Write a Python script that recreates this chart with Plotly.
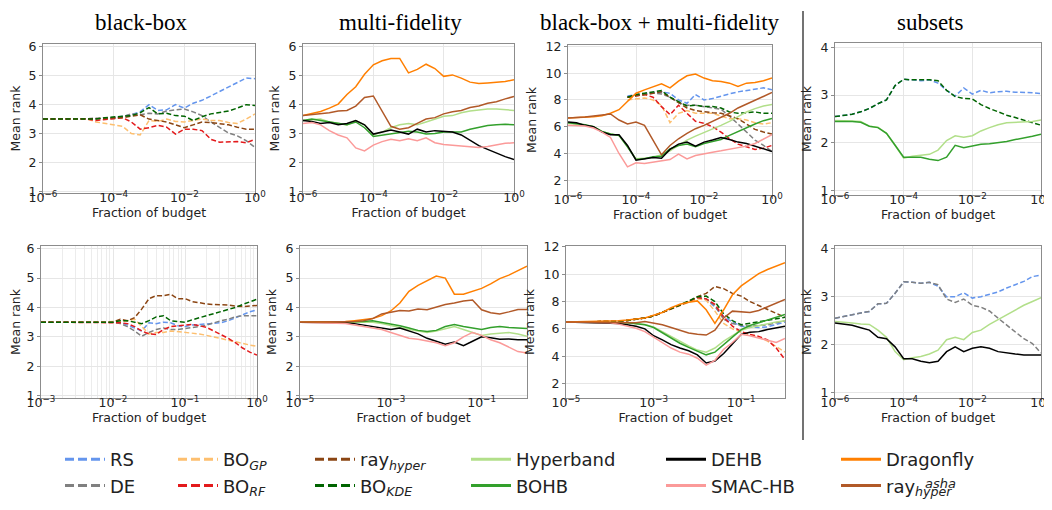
import plotly.graph_objects as go

N = None

# ---------------- data (x given as log10 of the budget fraction) ----------------
X_R1 = [-6, -5.75, -5.5, -5.25, -5, -4.75, -4.5, -4.25, -4, -3.75, -3.5, -3.25, -3,
        -2.75, -2.5, -2.25, -2, -1.75, -1.5, -1.25, -1, -0.75, -0.5, -0.25, 0]
X_P5 = [-3, -2.0, -1.9, -1.8, -1.7, -1.6, -1.5, -1.4, -1.3, -1.2, -1.1, -1.0, -0.9,
        -0.8, -0.7, -0.6, -0.5, -0.4, -0.3, -0.2, -0.1, 0]
X_R2 = [-5, -4.0, -3.8, -3.6, -3.4, -3.2, -3.0, -2.8, -2.6, -2.4, -2.2, -2.0, -1.8,
        -1.6, -1.4, -1.2, -1.0, -0.8, -0.6, -0.4, -0.2, 0]

# panel 1: black-box (row 1)
P1_RS = [3.5, 3.5, 3.5, 3.5, 3.5, 3.5, 3.5, 3.52, 3.55, 3.6, 3.65, 3.75, 4.0, 3.8, 3.82, 4.0, 3.88, 4.05, 4.15, 4.3, 4.45, 4.6, 4.75, 4.92, 4.9]
P1_DE = [3.5, 3.5, 3.5, 3.5, 3.5, 3.5, 3.5, 3.5, 3.52, 3.58, 3.68, 3.65, 3.7, 3.68, 3.78, 3.82, 3.85, 3.75, 3.62, 3.4, 3.2, 3.02, 2.92, 2.75, 2.52]
P1_GP = [3.5, 3.5, 3.5, 3.5, 3.5, 3.5, 3.4, 3.35, 3.3, 3.25, 3.0, 2.95, 3.45, 3.42, 3.5, 3.42, 3.4, 3.45, 3.5, 3.45, 3.45, 3.38, 3.35, 3.5, 3.68]
P1_RF = [3.5, 3.5, 3.5, 3.5, 3.5, 3.5, 3.45, 3.48, 3.5, 3.55, 3.4, 3.15, 3.2, 3.28, 3.22, 2.98, 3.15, 3.15, 3.1, 2.8, 2.7, 2.72, 2.72, 2.68, 2.8]
P1_RH = [3.5, 3.5, 3.5, 3.5, 3.5, 3.5, 3.5, 3.52, 3.55, 3.55, 3.6, 3.65, 3.5, 3.45, 3.4, 3.3, 3.2, 3.3, 3.4, 3.38, 3.35, 3.3, 3.22, 3.15, 3.15]
P1_KDE = [3.5, 3.5, 3.5, 3.5, 3.5, 3.5, 3.5, 3.55, 3.58, 3.6, 3.62, 3.72, 3.9, 3.68, 3.7, 3.62, 3.6, 3.45, 3.58, 3.68, 3.72, 3.78, 3.88, 4.0, 3.97]

# panel 2: multi-fidelity (row 1)
P2_HB = [3.45, 3.48, 3.5, 3.4, 3.35, 3.3, 3.45, 3.3, 2.95, 3.05, 3.2, 3.3, 3.35, 3.3, 3.4, 3.5, 3.6, 3.62, 3.72, 3.78, 3.82, 3.85, 3.85, 3.82, 3.8]
P2_BOHB = [3.45, 3.5, 3.45, 3.4, 3.35, 3.3, 3.4, 3.2, 2.9, 2.95, 3.0, 3.05, 3.08, 3.05, 2.98, 3.0, 3.05, 3.05, 3.05, 3.15, 3.22, 3.28, 3.3, 3.32, 3.3]
P2_DEHB = [3.45, 3.42, 3.35, 3.38, 3.3, 3.35, 3.45, 3.3, 2.98, 3.05, 3.12, 3.05, 2.98, 3.15, 3.05, 3.1, 3.08, 3.05, 2.95, 2.75, 2.58, 2.45, 2.32, 2.2, 2.1]
P2_SMAC = [3.35, 3.38, 3.3, 3.1, 2.95, 2.85, 2.5, 2.4, 2.6, 2.72, 2.8, 2.75, 2.82, 2.75, 2.85, 2.68, 2.62, 2.6, 2.58, 2.55, 2.52, 2.55, 2.6, 2.66, 2.68]
P2_DF = [3.62, 3.7, 3.76, 3.88, 4.02, 4.35, 4.62, 5.05, 5.38, 5.52, 5.6, 5.6, 5.1, 5.22, 5.4, 5.25, 4.98, 5.03, 4.92, 4.78, 4.73, 4.75, 4.77, 4.8, 4.86]
P2_ASHA = [3.62, 3.65, 3.7, 3.72, 3.78, 3.8, 3.95, 4.25, 4.3, 3.75, 3.25, 3.15, 3.2, 3.35, 3.5, 3.55, 3.68, 3.75, 3.8, 3.9, 3.95, 4.05, 4.1, 4.2, 4.28]

# panel 3: black-box + multi-fidelity (row 1)
P3_RS = [N, N, N, N, N, N, N, 8.3, 8.4, 8.5, 8.55, 8.6, 8.5, 8.0, 7.75, 8.4, 8.0, 8.1, 8.3, 8.45, 8.6, 8.7, 8.8, 8.9, 8.75]
P3_DE = [N, N, N, N, N, N, N, 8.2, 8.35, 8.4, 8.5, 8.45, 8.2, 7.8, 7.6, 7.6, 7.5, 7.45, 7.3, 6.8, 6.2, 5.6, 5.0, 4.6, 4.15]
P3_GP = [N, N, N, N, N, N, N, 8.0, 8.1, 8.15, 8.0, 7.6, 6.3, 7.0, 7.2, 7.0, 7.0, 7.0, 6.8, 6.6, 6.6, 6.5, 6.3, 6.2, 6.3]
P3_RF = [N, N, N, N, N, N, N, 8.2, 8.3, 8.4, 8.2, 7.5, 6.9, 7.6, 7.0, 6.4, 6.25, 6.0, 5.6, 5.1, 4.7, 4.5, 4.3, 4.4, 4.6]
P3_RH = [N, N, N, N, N, N, N, 8.2, 8.3, 8.4, 8.5, 8.6, 8.2, 7.8, 7.4, 7.2, 7.1, 7.05, 7.0, 6.8, 6.6, 6.2, 5.8, 5.6, 5.45]
P3_KDE = [N, N, N, N, N, N, N, 8.2, 8.4, 8.5, 8.6, 8.7, 8.2, 7.9, 7.55, 7.6, 7.5, 7.5, 7.4, 7.1, 7.0, 7.05, 7.1, 7.0, 7.0]
P3_HB = [6.25, 6.2, 6.1, 6.0, 5.65, 5.45, 5.35, 4.5, 3.6, 3.65, 3.7, 3.9, 4.2, 4.6, 5.0, 5.3, 5.55, 5.85, 6.1, 6.4, 6.75, 7.1, 7.35, 7.55, 7.65]
P3_BOHB = [6.3, 6.25, 6.15, 6.0, 5.65, 5.45, 5.35, 4.5, 3.55, 3.6, 3.75, 3.8, 4.35, 4.6, 4.7, 4.5, 4.75, 4.9, 5.05, 5.35, 5.65, 5.95, 6.2, 6.45, 6.62]
P3_DEHB = [6.35, 6.3, 6.1, 6.0, 5.6, 5.4, 5.4, 4.6, 3.5, 3.6, 3.7, 3.65, 4.3, 4.7, 4.85, 4.55, 4.85, 5.0, 5.2, 5.05, 4.85, 4.75, 4.55, 4.35, 4.15]
P3_SMAC = [6.1, 6.1, 6.05, 5.9, 5.6, 5.2, 4.0, 3.0, 3.3, 3.25, 3.35, 3.45, 3.55, 3.95, 3.6, 3.85, 4.0, 4.1, 4.2, 4.3, 4.4, 4.55, 4.75, 5.05, 5.4]
P3_DF = [6.65, 6.68, 6.7, 6.75, 6.82, 7.0, 7.27, 7.9, 8.5, 8.75, 9.0, 9.2, 8.9, 9.4, 9.8, 9.93, 9.63, 9.43, 9.38, 9.25, 9.0, 9.25, 9.3, 9.43, 9.63]
P3_ASHA = [6.65, 6.68, 6.72, 6.8, 6.9, 6.95, 6.5, 6.2, 6.35, 6.1, 5.0, 3.9, 4.6, 5.1, 5.5, 5.85, 6.1, 6.4, 6.7, 7.0, 7.4, 7.7, 8.0, 8.25, 8.55]

# panel 4: subsets (row 1)
P4_RS = [2.55, 2.57, 2.6, 2.65, 2.72, 2.82, 2.9, 3.2, 3.33, 3.32, 3.3, 3.32, 3.25, 3.1, 2.98, 3.15, 3.02, 3.1, 3.05, 3.07, 3.08, 3.06, 3.06, 3.05, 3.03]
P4_KDE = [2.55, 2.57, 2.6, 2.65, 2.72, 2.82, 2.9, 3.2, 3.33, 3.32, 3.32, 3.32, 3.3, 3.1, 2.97, 2.93, 2.92, 2.8, 2.72, 2.65, 2.58, 2.53, 2.48, 2.42, 2.37]
P4_HB = [2.47, 2.47, 2.46, 2.45, 2.35, 2.33, 2.2, 1.95, 1.68, 1.72, 1.74, 1.76, 1.85, 2.05, 2.15, 2.12, 2.15, 2.25, 2.32, 2.38, 2.42, 2.43, 2.45, 2.45, 2.48]
P4_BOHB = [2.45, 2.45, 2.45, 2.43, 2.35, 2.32, 2.2, 1.95, 1.7, 1.7, 1.7, 1.66, 1.63, 1.7, 1.95, 1.9, 1.93, 1.97, 1.98, 2.0, 2.03, 2.07, 2.1, 2.14, 2.18]

# panel 5: black-box (row 2)
P5_RS = [3.5, 3.5, 3.5, 3.4, 3.3, 3.2, 3.48, 3.45, 3.5, 3.48, 3.38, 3.35, 3.4, 3.42, 3.42, 3.45, 3.48, 3.55, 3.65, 3.75, 3.85, 3.92]
P5_DE = [3.5, 3.5, 3.45, 3.35, 3.2, 3.02, 3.15, 3.25, 3.3, 3.25, 3.25, 3.28, 3.3, 3.35, 3.4, 3.48, 3.55, 3.6, 3.68, 3.72, 3.73, 3.72]
P5_GP = [3.5, 3.5, 3.52, 3.55, 3.6, 3.35, 3.1, 3.15, 3.15, 3.2, 3.18, 3.15, 3.12, 3.1, 3.05, 3.0, 2.95, 2.9, 2.85, 2.78, 2.72, 2.68]
P5_RF = [3.5, 3.5, 3.48, 3.45, 3.35, 3.2, 3.1, 3.08, 3.25, 3.35, 3.38, 3.4, 3.42, 3.38, 3.32, 3.2, 3.08, 2.95, 2.8, 2.62, 2.48, 2.38]
P5_RH = [3.5, 3.5, 3.6, 3.55, 3.65, 3.95, 4.3, 4.4, 4.4, 4.45, 4.3, 4.3, 4.2, 4.15, 4.12, 4.1, 4.1, 4.08, 4.05, 4.03, 4.05, 4.07]
P5_KDE = [3.5, 3.5, 3.55, 3.55, 3.5, 3.45, 3.55, 3.68, 3.72, 3.55, 3.52, 3.5, 3.58, 3.65, 3.72, 3.8, 3.85, 3.92, 4.0, 4.1, 4.18, 4.28]

# panel 6: multi-fidelity (row 2)
P6_HB = [3.5, 3.5, 3.5, 3.5, 3.5, 3.45, 3.38, 3.3, 3.25, 3.2, 3.15, 3.2, 3.28, 3.35, 3.25, 3.15, 3.05, 3.1, 3.12, 3.15, 3.1, 3.02]
P6_BOHB = [3.5, 3.5, 3.5, 3.52, 3.55, 3.5, 3.45, 3.38, 3.3, 3.22, 3.18, 3.22, 3.35, 3.42, 3.35, 3.3, 3.25, 3.32, 3.35, 3.32, 3.3, 3.28]
P6_DEHB = [3.5, 3.48, 3.45, 3.4, 3.35, 3.3, 3.25, 3.3, 3.2, 3.1, 2.95, 2.85, 2.75, 2.82, 2.7, 2.85, 3.0, 2.97, 2.92, 2.93, 2.9, 2.9]
P6_SMAC = [3.5, 3.45, 3.4, 3.35, 3.3, 3.25, 3.15, 3.05, 2.95, 2.92, 2.85, 2.8, 2.7, 2.8, 3.0, 3.15, 3.05, 2.9, 2.8, 2.65, 2.5, 2.45]
P6_DF = [3.5, 3.52, 3.55, 3.58, 3.62, 3.72, 3.88, 4.15, 4.55, 4.75, 4.9, 5.07, 5.0, 4.45, 4.45, 4.55, 4.65, 4.8, 4.98, 5.1, 5.25, 5.4]
P6_ASHA = [3.5, 3.52, 3.52, 3.55, 3.62, 3.78, 3.85, 3.9, 3.88, 3.95, 3.92, 4.0, 4.1, 4.15, 4.22, 4.25, 3.92, 3.82, 3.78, 3.85, 3.93, 3.93]

# panel 7: black-box + multi-fidelity (row 2)
P7_RS = [6.5, 6.5, 6.55, 6.62, 6.7, 6.8, 6.95, 7.2, 7.5, 7.75, 8.0, 8.25, 8.2, 7.6, 6.9, 6.5, 6.2, 6.15, 6.1, 6.15, 6.3, 6.5]
P7_DE = [6.5, 6.5, 6.55, 6.62, 6.7, 6.8, 6.95, 7.2, 7.5, 7.75, 8.0, 8.3, 8.2, 7.7, 6.7, 6.4, 6.25, 6.2, 6.25, 6.3, 6.45, 6.6]
P7_GP = [6.5, 6.5, 6.55, 6.62, 6.7, 6.8, 6.95, 7.2, 7.5, 7.75, 7.95, 8.2, 8.1, 7.3, 6.4, 6.0, 5.75, 5.6, 5.4, 5.1, 4.7, 4.3]
P7_RF = [6.5, 6.5, 6.55, 6.62, 6.7, 6.8, 6.95, 7.2, 7.5, 7.75, 8.0, 8.3, 8.2, 7.8, 6.85, 6.2, 5.8, 5.6, 5.45, 5.2, 4.6, 3.75]
P7_RH = [6.5, 6.5, 6.55, 6.62, 6.7, 6.8, 6.95, 7.2, 7.5, 7.75, 8.0, 8.35, 8.6, 9.1, 8.95, 8.6, 8.4, 8.0, 7.7, 7.45, 7.1, 6.85]
P7_KDE = [6.5, 6.5, 6.55, 6.62, 6.7, 6.8, 6.95, 7.2, 7.5, 7.75, 8.05, 8.35, 8.4, 8.0, 7.1, 6.6, 6.3, 6.4, 6.5, 6.6, 6.75, 6.85]
P7_HB = [6.5, 6.5, 6.48, 6.45, 6.4, 6.32, 6.15, 5.8, 5.4, 5.05, 4.75, 4.45, 4.3, 4.6, 5.1, 5.5, 5.9, 6.1, 6.25, 6.4, 6.5, 6.6]
P7_BOHB = [6.5, 6.5, 6.48, 6.45, 6.38, 6.3, 6.1, 5.7, 5.3, 4.95, 4.65, 4.35, 4.1, 4.3, 4.85, 5.35, 5.95, 6.25, 6.45, 6.65, 6.85, 7.05]
P7_DEHB = [6.5, 6.45, 6.4, 6.3, 6.2, 6.0, 5.5, 5.2, 4.85, 4.6, 4.4, 4.1, 3.5, 3.65, 4.2, 4.9, 5.6, 5.75, 5.8, 5.95, 6.1, 6.2]
P7_SMAC = [6.5, 6.45, 6.35, 6.2, 6.05, 5.8, 5.4, 5.0, 4.6, 4.3, 4.15, 3.85, 3.35, 3.7, 4.5, 5.0, 5.6, 5.5, 5.35, 5.2, 5.0, 5.3]
P7_DF = [6.5, 6.55, 6.6, 6.65, 6.7, 6.8, 7.0, 7.2, 7.55, 7.8, 7.95, 8.05, 7.4, 6.4, 7.4, 8.5, 9.15, 9.6, 10.05, 10.35, 10.6, 10.85]
P7_ASHA = [6.5, 6.5, 6.5, 6.45, 6.45, 6.55, 6.45, 6.3, 6.1, 5.9, 5.7, 5.6, 5.55, 5.9, 6.8, 7.3, 7.25, 7.2, 7.35, 7.6, 7.9, 8.15]

# panel 8: subsets (row 2)
P8_RS = [2.55, 2.58, 2.62, 2.66, 2.69, 2.85, 2.86, 3.07, 3.31, 3.3, 3.28, 3.3, 3.22, 3.0, 3.0, 3.08, 2.97, 3.0, 3.05, 3.1, 3.18, 3.25, 3.32, 3.42, 3.45]
P8_DE = [2.55, 2.58, 2.62, 2.66, 2.69, 2.85, 2.86, 3.07, 3.31, 3.3, 3.28, 3.3, 3.25, 2.95, 2.88, 2.95, 2.82, 2.78, 2.7, 2.55, 2.4, 2.25, 2.12, 2.02, 1.82]
P8_HB = [2.48, 2.47, 2.45, 2.43, 2.42, 2.3, 2.15, 1.85, 1.68, 1.72, 1.75, 1.8, 1.88, 2.1, 2.15, 2.1, 2.25, 2.3, 2.42, 2.52, 2.62, 2.72, 2.82, 2.9, 2.98]
P8_DEHB = [2.45, 2.42, 2.4, 2.35, 2.3, 2.15, 2.12, 1.95, 1.7, 1.7, 1.65, 1.62, 1.65, 1.85, 1.95, 1.85, 1.92, 1.95, 1.92, 1.85, 1.82, 1.8, 1.78, 1.78, 1.78]

COLUMN_TITLES = ["black-box", "multi-fidelity", "black-box + multi-fidelity", "subsets"]
LEGEND_LABELS = {
    "RS": "RS", "DE": "DE", "BO_GP": "BO<sub><i>GP</i></sub>", "BO_RF": "BO<sub><i>RF</i></sub>",
    "ray_hyper": "ray<sub><i>hyper</i></sub>", "BO_KDE": "BO<sub><i>KDE</i></sub>",
    "Hyperband": "Hyperband", "BOHB": "BOHB", "DEHB": "DEHB", "SMAC-HB": "SMAC-HB",
    "Dragonfly": "Dragonfly", "ray_asha": "ray<sub><i>hyper</i></sub>",
}
LEGEND_SUPER = "asha"
LEGEND_COLUMNS = [("RS", "DE"), ("BO_GP", "BO_RF"), ("ray_hyper", "BO_KDE"),
                  ("Hyperband", "BOHB"), ("DEHB", "SMAC-HB"), ("Dragonfly", "ray_asha")]

PANELS = [
    (X_R1, [("RS", P1_RS), ("DE", P1_DE), ("BO_GP", P1_GP), ("BO_RF", P1_RF), ("ray_hyper", P1_RH), ("BO_KDE", P1_KDE)]),
    (X_R1, [("Hyperband", P2_HB), ("BOHB", P2_BOHB), ("DEHB", P2_DEHB), ("SMAC-HB", P2_SMAC), ("Dragonfly", P2_DF), ("ray_asha", P2_ASHA)]),
    (X_R1, [("RS", P3_RS), ("DE", P3_DE), ("BO_GP", P3_GP), ("BO_RF", P3_RF), ("ray_hyper", P3_RH), ("BO_KDE", P3_KDE),
            ("Hyperband", P3_HB), ("BOHB", P3_BOHB), ("DEHB", P3_DEHB), ("SMAC-HB", P3_SMAC), ("Dragonfly", P3_DF), ("ray_asha", P3_ASHA)]),
    (X_R1, [("RS", P4_RS), ("BO_KDE", P4_KDE), ("Hyperband", P4_HB), ("BOHB", P4_BOHB)]),
    (X_P5, [("RS", P5_RS), ("DE", P5_DE), ("BO_GP", P5_GP), ("BO_RF", P5_RF), ("ray_hyper", P5_RH), ("BO_KDE", P5_KDE)]),
    (X_R2, [("Hyperband", P6_HB), ("BOHB", P6_BOHB), ("DEHB", P6_DEHB), ("SMAC-HB", P6_SMAC), ("Dragonfly", P6_DF), ("ray_asha", P6_ASHA)]),
    (X_R2, [("RS", P7_RS), ("DE", P7_DE), ("BO_GP", P7_GP), ("BO_RF", P7_RF), ("ray_hyper", P7_RH), ("BO_KDE", P7_KDE),
            ("Hyperband", P7_HB), ("BOHB", P7_BOHB), ("DEHB", P7_DEHB), ("SMAC-HB", P7_SMAC), ("Dragonfly", P7_DF), ("ray_asha", P7_ASHA)]),
    (X_R1, [("RS", P8_RS), ("DE", P8_DE), ("Hyperband", P8_HB), ("DEHB", P8_DEHB)]),
]

# ---------------- styling ----------------
W, H = 1052, 510
COLORS = {
    "RS": "#6495ED", "DE": "#808080", "BO_GP": "#fdbf6f", "BO_RF": "#e31a1c",
    "ray_hyper": "#8B4513", "BO_KDE": "#006400", "Hyperband": "#b2df8a", "BOHB": "#33a02c",
    "DEHB": "#000000", "SMAC-HB": "#fb9a99", "Dragonfly": "#ff7f00", "ray_asha": "#b15928",
}
BLACKBOX = {"RS", "DE", "BO_GP", "BO_RF", "ray_hyper", "BO_KDE"}
DASH_PLOT = "5px,2.5px"
DASH_LEG = "9px,4px"

# (x0, x1, y0, y1) in pixels, x range (log10), x ticks (log10), y range, y dtick
PANEL_GEOM = [
    ((35, 247, 36, 185), (-6, 0), [-6, -4, -2, 0], (0.94, 6.1), 1),
    ((295, 506, 36, 185), (-6, 0), [-6, -4, -2, 0], (0.94, 6.1), 1),
    ((560, 764, 37, 187), (-6, 0), [-6, -4, -2, 0], (0.9, 12.1), 2),
    ((827, 1033, 35, 187), (-6, 0), [-6, -4, -2, 0], (0.91, 4.09), 1),
    ((33, 249, 238, 390), (-3, 0), [-3, -2, -1, 0], (0.92, 6.09), 1),
    ((292, 519, 238, 390), (-5, 0), [-5, -3, -1], (0.92, 6.09), 1),
    ((558, 777, 238, 390), (-5, 0), [-5, -3, -1], (0.94, 12.07), 2),
    ((827, 1033, 238, 390), (-6, 0), [-6, -4, -2, 0], (0.88, 4.06), 1),
]
TITLE_X = [133, 392, 652, 922]
LEGEND_X = [52, 165, 302, 458, 653, 828]

FONT = "DejaVu Sans"
GRID = "#e6e6e6"
FRAME = "#8c8c8c"
TXT = "#222222"


def tick_label(e):
    return "10<sup>" + ("\u2212" if e < 0 else "") + str(abs(e)) + "</sup>"


fig = go.Figure()

for k, (xs, series) in enumerate(PANELS, start=1):
    xa = "x" if k == 1 else f"x{k}"
    ya = "y" if k == 1 else f"y{k}"
    xv = [10 ** e for e in xs]
    for m, ys in series:
        fig.add_trace(go.Scatter(
            x=xv, y=ys, mode="lines", xaxis=xa, yaxis=ya, name=m,
            line=dict(color=COLORS[m], width=1.5, dash=DASH_PLOT if m in BLACKBOX else "solid"),
            legendgroup=m, showlegend=False, hoverinfo="skip"))

# legend entries (one legend per column of entries)
for i, col in enumerate(LEGEND_COLUMNS):
    lg = "legend" if i == 0 else f"legend{i + 1}"
    for m in col:
        fig.add_trace(go.Scatter(
            x=[None], y=[None], mode="lines", name=LEGEND_LABELS[m], legend=lg, legendgroup=m,
            line=dict(color=COLORS[m], width=3, dash=DASH_LEG if m in BLACKBOX else "solid"),
            showlegend=True, hoverinfo="skip"))
    fig.update_layout(**{lg: dict(
        x=LEGEND_X[i] / W, y=1 - 433 / H, xanchor="left", yanchor="top", orientation="v",
        font=dict(family=FONT, size=18, color=TXT), bgcolor="rgba(0,0,0,0)",
        tracegroupgap=8, itemwidth=40, traceorder="normal")})

for k, (box, xr, xt, yr, ydt) in enumerate(PANEL_GEOM, start=1):
    x0, x1, y0, y1 = box
    xk = "xaxis" if k == 1 else f"xaxis{k}"
    yk = "yaxis" if k == 1 else f"yaxis{k}"
    xa = "x" if k == 1 else f"x{k}"
    ya = "y" if k == 1 else f"y{k}"
    xaxis = dict(
        type="log", domain=[x0 / W, x1 / W], range=list(xr), anchor=ya,
        tickmode="array", tickvals=[10 ** e for e in xt], ticktext=[tick_label(e) for e in xt],
        showgrid=True, gridcolor=GRID, gridwidth=1, zeroline=False,
        showline=True, mirror=True, linecolor=FRAME, linewidth=1,
        ticks="outside", ticklen=3, tickcolor=FRAME, ticklabelstandoff=-10,
        tickfont=dict(family=FONT, size=12.5, color=TXT),
        title=dict(text="Fraction of budget", font=dict(family=FONT, size=12.5, color=TXT), standoff=0),
        automargin=False,
    )
    if k == 5:
        xaxis["minor"] = dict(
            tickvals=[m * 10 ** d for d in (-3, -2, -1) for m in range(2, 10)],
            showgrid=True, gridcolor="#ececec", gridwidth=1, ticks="")
    yaxis = dict(
        domain=[1 - y1 / H, 1 - y0 / H], range=list(yr), anchor=xa,
        tick0=0, dtick=ydt,
        showgrid=True, gridcolor=GRID, gridwidth=1, zeroline=False,
        showline=True, mirror=True, linecolor=FRAME, linewidth=1,
        ticks="outside", ticklen=3, tickcolor=FRAME,
        tickfont=dict(family=FONT, size=12.5, color=TXT),
        title=dict(text="Mean rank", font=dict(family=FONT, size=12.5, color=TXT), standoff=6),
        automargin=False,
    )
    fig.update_layout(**{xk: xaxis, yk: yaxis})

for t, xc in zip(COLUMN_TITLES, TITLE_X):
    fig.add_annotation(text=t, x=xc / W, y=1, xref="paper", yref="paper",
                       showarrow=False, xanchor="center", yanchor="top",
                       font=dict(family="Liberation Serif", size=23, color="#000000"))

# superscript of the last legend entry (stacked over the subscript)
fig.add_annotation(text="<i>" + LEGEND_SUPER + "</i>", x=915 / W, y=1 - 475 / H, xref="paper", yref="paper",
                   showarrow=False, xanchor="left", yanchor="middle",
                   font=dict(family=FONT, size=13, color=TXT))

fig.add_shape(type="line", xref="paper", yref="paper", x0=795 / W, x1=795 / W,
              y0=1 - 3 / H, y1=1 - 432 / H, line=dict(color="#444444", width=1.5))

fig.update_layout(width=W, height=H, autosize=False,
                  margin=dict(l=0, r=0, t=0, b=0),
                  paper_bgcolor="white", plot_bgcolor="white",
                  font=dict(family=FONT, color=TXT))

fig.write_html("out.html")
